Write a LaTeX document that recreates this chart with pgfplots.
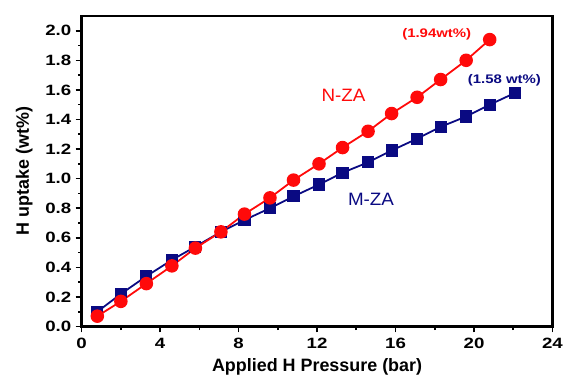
\documentclass[border=0pt]{standalone}
\usepackage{pgfplots}
\pgfplotsset{compat=1.18}
\usepackage{fontspec}
\setmainfont{Liberation Sans}
\definecolor{nred}{RGB}{255,10,10}
\definecolor{mblue}{RGB}{10,10,130}
\begin{document}
\begin{tikzpicture}
\begin{axis}[
  name=ax,
  scale only axis,
  width=473bp, height=312bp,
  xmin=0, xmax=24, ymin=0, ymax=2.1,
  xtick={0,4,...,24}, ytick={0,0.2,...,2.01},
  minor x tick num=1, minor y tick num=1,
  axis line style={line width=2.4bp},
  tick style={line width=1.6bp, black},
  major tick length=6bp, minor tick length=3.5bp,
  tick align=outside,
  xtick pos=bottom, ytick pos=left,
  /pgf/number format/assume math mode=true,
  xticklabel style={font=\fontsize{15bp}{15bp}\selectfont\bfseries, xscale=1.25, /pgf/number format/fixed, yshift=-2bp},
  yticklabel style={font=\fontsize{15bp}{15bp}\selectfont\bfseries, xscale=1.25, /pgf/number format/fixed, /pgf/number format/fixed zerofill, /pgf/number format/precision=1},
  xlabel={Applied H Pressure (bar)},
  ylabel={H uptake (wt\%)},
  xlabel style={font=\fontsize{18bp}{18bp}\selectfont\bfseries, yshift=-3bp},
  ylabel style={font=\fontsize{18bp}{18bp}\selectfont\bfseries, yshift=5bp},
]
\addplot[mblue, line width=1.8bp, mark=square*, mark size=5.2bp, mark options={solid}] coordinates {
(0.8,0.10) (2.0,0.22) (3.3,0.34) (4.6,0.45) (5.8,0.54) (7.1,0.64) (8.3,0.72) (9.6,0.80)
(10.8,0.88) (12.1,0.96) (13.3,1.04) (14.6,1.11) (15.8,1.19) (17.1,1.27) (18.3,1.35)
(19.6,1.42) (20.8,1.50) (22.1,1.58)};
\addplot[nred, line width=1.8bp, mark=*, mark size=5.9bp] coordinates {
(0.8,0.07) (2.0,0.17) (3.3,0.29) (4.6,0.41) (5.8,0.53) (7.1,0.64) (8.3,0.76) (9.6,0.87)
(10.8,0.99) (12.1,1.10) (13.3,1.21) (14.6,1.32) (15.8,1.44) (17.1,1.55) (18.3,1.67)
(19.6,1.80) (20.8,1.94)};
\node[text=nred, font=\fontsize{18bp}{18bp}\selectfont, xscale=1.05] at (axis cs:13.35,1.56) {N-ZA};
\node[text=mblue, font=\fontsize{18bp}{18bp}\selectfont, xscale=1.05] at (axis cs:14.75,0.86) {M-ZA};
\node[text=nred, font=\fontsize{12.5bp}{12.5bp}\selectfont\bfseries, xscale=1.2] at (axis cs:18.1,1.975) {(1.94wt\%)};
\node[text=mblue, font=\fontsize{12.5bp}{12.5bp}\selectfont\bfseries, xscale=1.2] at (axis cs:21.55,1.665) {(1.58 wt\%)};
\end{axis}
\path ([shift={(-82bp,-51bp)}]ax.south west) rectangle ([shift={(12bp,16bp)}]ax.north east);
\end{tikzpicture}
\end{document}
